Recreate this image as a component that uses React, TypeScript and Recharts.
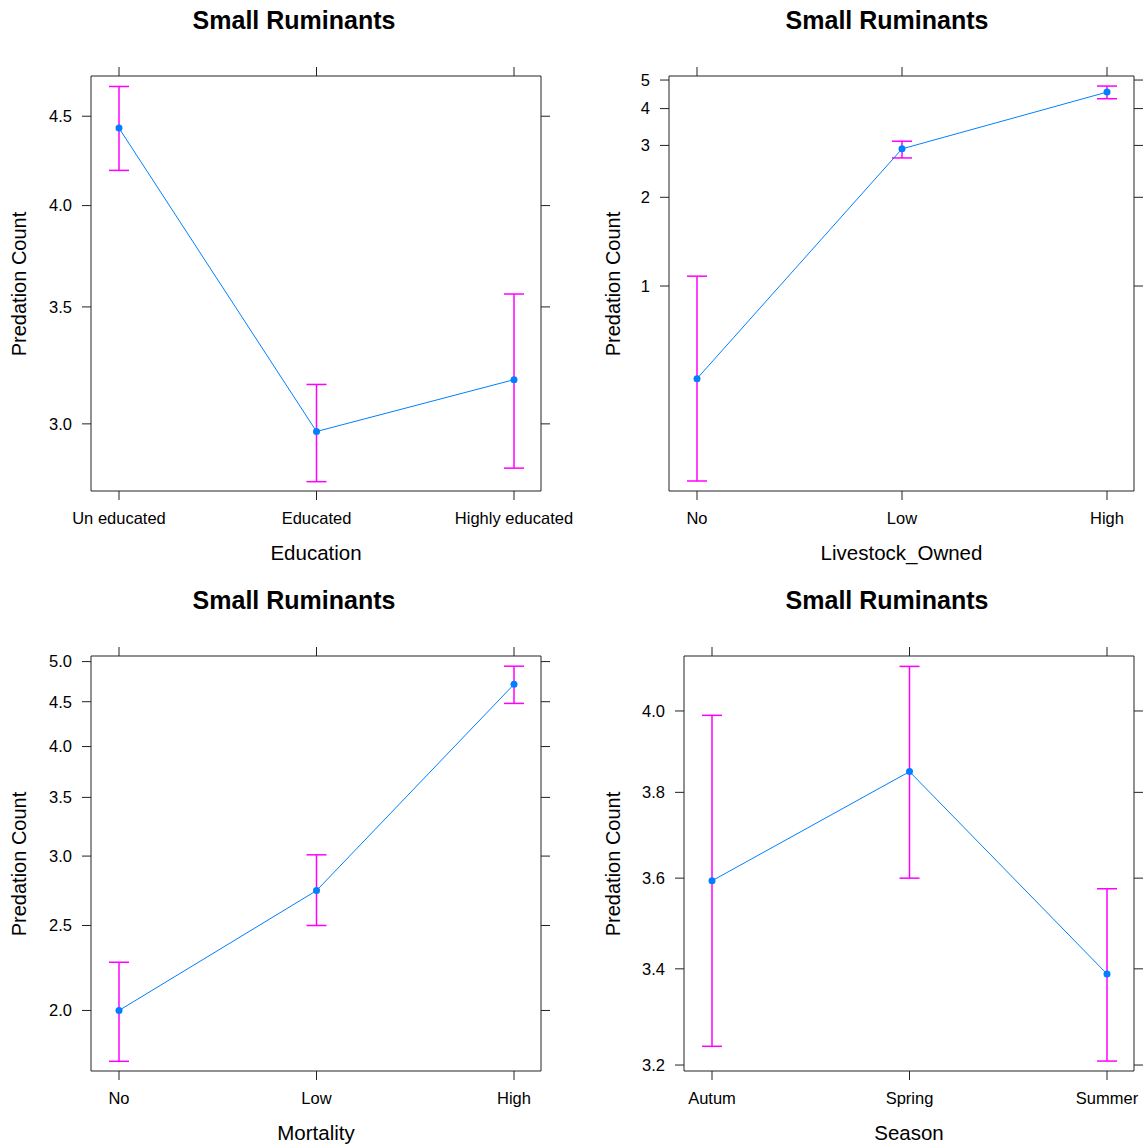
import { LineChart, Line, XAxis, YAxis, ErrorBar } from "recharts";

// Education panel
const educationCats = ["Un educated", "Educated", "Highly educated"];
const educationFit = [4.43, 2.97, 3.18];
const educationLower = [4.19, 2.78, 2.83];
const educationUpper = [4.68, 3.16, 3.56];
const educationTicks = [3.0, 3.5, 4.0, 4.5];

// Livestock owned panel
const livestockCats = ["No", "Low", "High"];
const livestockFit = [0.485, 2.92, 4.55];
const livestockLower = [0.218, 2.72, 4.32];
const livestockUpper = [1.08, 3.1, 4.77];
const livestockTicks = [1, 2, 3, 4, 5];

// Mortality panel
const mortalityCats = ["No", "Low", "High"];
const mortalityFit = [2.0, 2.74, 4.71];
const mortalityLower = [1.75, 2.5, 4.48];
const mortalityUpper = [2.27, 3.01, 4.94];
const mortalityTicks = [2.0, 2.5, 3.0, 3.5, 4.0, 4.5, 5.0];

// Season panel
const seasonCats = ["Autum", "Spring", "Summer"];
const seasonFit = [3.594, 3.85, 3.389];
const seasonLower = [3.238, 3.6, 3.208];
const seasonUpper = [3.989, 4.114, 3.576];
const seasonTicks = [3.2, 3.4, 3.6, 3.8, 4.0];

const AXIS = "#222";
const LINE = "#0080ff";
const BAR = "#ff00ff";
const FONT = "'Liberation Sans', Arial, sans-serif";

const NoTick = () => <g />;

type PanelProps = {
  box: { left: number; top: number; right: number; bottom: number };
  cats: string[];
  fit: number[];
  lower: number[];
  upper: number[];
  domain: [number, number];
  ticks: number[];
  fmt: (v: number) => string;
  xTitle: string;
  titleX: number;
  yTitleX: number;
};

const Panel = ({ box, cats, fit, lower, upper, domain, ticks, fmt, xTitle, titleX, yTitleX }: PanelProps) => {
  const chartLeft = box.left - 91;
  const chartTop = box.top - 36;
  // extra room on the right so long category labels are not clipped
  const width = box.right - chartLeft + 12 + 50;
  const height = box.bottom - chartTop + 50;
  const data = cats.map((c, i) => ({
    cat: c,
    fit: fit[i],
    err: [fit[i] - lower[i], upper[i] - fit[i]],
  }));
  const midX = (box.left + box.right) / 2;
  const midY = (box.top + box.bottom) / 2;
  const tickStyle = { fill: "#000", fontSize: 16.5 };

  return (
    <>
      <div
        style={{
          position: "absolute",
          left: titleX,
          top: box.top - 56,
          transform: "translate(-50%, -50%)",
          fontSize: 25,
          fontWeight: "bold",
          lineHeight: 1,
          whiteSpace: "nowrap",
        }}
      >
        Small Ruminants
      </div>
      <div style={{ position: "absolute", left: chartLeft, top: chartTop }}>
        <LineChart width={width} height={height} data={data} margin={{ top: 24, right: 50, bottom: 10, left: 31 }}>
          <XAxis
            dataKey="cat"
            type="category"
            interval={0}
            padding={{ left: 28, right: 27 }}
            height={40}
            tickSize={9}
            tickMargin={12}
            stroke={AXIS}
            tick={tickStyle}
          />
          <XAxis
            xAxisId="top"
            dataKey="cat"
            orientation="top"
            type="category"
            interval={0}
            padding={{ left: 28, right: 27 }}
            height={12}
            tickSize={9}
            stroke={AXIS}
            tick={NoTick}
          />
          <YAxis
            type="number"
            scale="log"
            domain={domain}
            allowDataOverflow
            ticks={ticks}
            interval={0}
            tickFormatter={fmt}
            width={60}
            tickSize={9}
            tickMargin={10}
            stroke={AXIS}
            tick={tickStyle}
          />
          <YAxis
            yAxisId="right"
            orientation="right"
            type="number"
            scale="log"
            domain={domain}
            allowDataOverflow
            ticks={ticks}
            interval={0}
            width={12}
            tickSize={9}
            stroke={AXIS}
            tick={NoTick}
          />
          <Line
            xAxisId="top"
            yAxisId="right"
            dataKey="fit"
            stroke="none"
            strokeOpacity={0}
            dot={false}
            activeDot={false}
            isAnimationActive={false}
          />
          <Line
            dataKey="fit"
            stroke={LINE}
            strokeWidth={1}
            dot={{ r: 3.5, fill: LINE, stroke: LINE, strokeWidth: 0 }}
            activeDot={false}
            isAnimationActive={false}
          >
            <ErrorBar dataKey="err" direction="y" width={10} stroke={BAR} strokeWidth={1.5} />
          </Line>
        </LineChart>
      </div>
      <div
        style={{
          position: "absolute",
          left: midX,
          top: box.bottom + 62,
          transform: "translate(-50%, -50%)",
          fontSize: 20.5,
          lineHeight: 1,
          whiteSpace: "nowrap",
        }}
      >
        {xTitle}
      </div>
      <div
        style={{
          position: "absolute",
          left: yTitleX,
          top: midY,
          transform: "translate(-50%, -50%) rotate(-90deg)",
          fontSize: 20,
          lineHeight: 1,
          whiteSpace: "nowrap",
        }}
      >
        Predation Count
      </div>
    </>
  );
};

const one = (v: number) => v.toFixed(1);
const whole = (v: number) => String(v);

const App = () => (
  <div
    style={{
      position: "absolute",
      left: 0,
      top: 0,
      width: 1144,
      height: 1147,
      overflow: "hidden",
      background: "#fff",
      fontFamily: FONT,
      color: "#000",
    }}
  >
    <Panel
      box={{ left: 91, top: 76, right: 541, bottom: 491 }}
      cats={educationCats}
      fit={educationFit}
      lower={educationLower}
      upper={educationUpper}
      domain={[2.746, 4.745]}
      ticks={educationTicks}
      fmt={one}
      xTitle="Education"
      titleX={294}
      yTitleX={19}
    />
    <Panel
      box={{ left: 669, top: 76, right: 1134, bottom: 491 }}
      cats={livestockCats}
      fit={livestockFit}
      lower={livestockLower}
      upper={livestockUpper}
      domain={[0.2016, 5.16]}
      ticks={livestockTicks}
      fmt={whole}
      xTitle="Livestock_Owned"
      titleX={887}
      yTitleX={613}
    />
    <Panel
      box={{ left: 91, top: 656, right: 541, bottom: 1071 }}
      cats={mortalityCats}
      fit={mortalityFit}
      lower={mortalityLower}
      upper={mortalityUpper}
      domain={[1.706, 5.074]}
      ticks={mortalityTicks}
      fmt={one}
      xTitle="Mortality"
      titleX={294}
      yTitleX={19}
    />
    <Panel
      box={{ left: 684, top: 656, right: 1134, bottom: 1071 }}
      cats={seasonCats}
      fit={seasonFit}
      lower={seasonLower}
      upper={seasonUpper}
      domain={[3.188, 4.141]}
      ticks={seasonTicks}
      fmt={one}
      xTitle="Season"
      titleX={887}
      yTitleX={613}
    />
  </div>
);

export default App;
